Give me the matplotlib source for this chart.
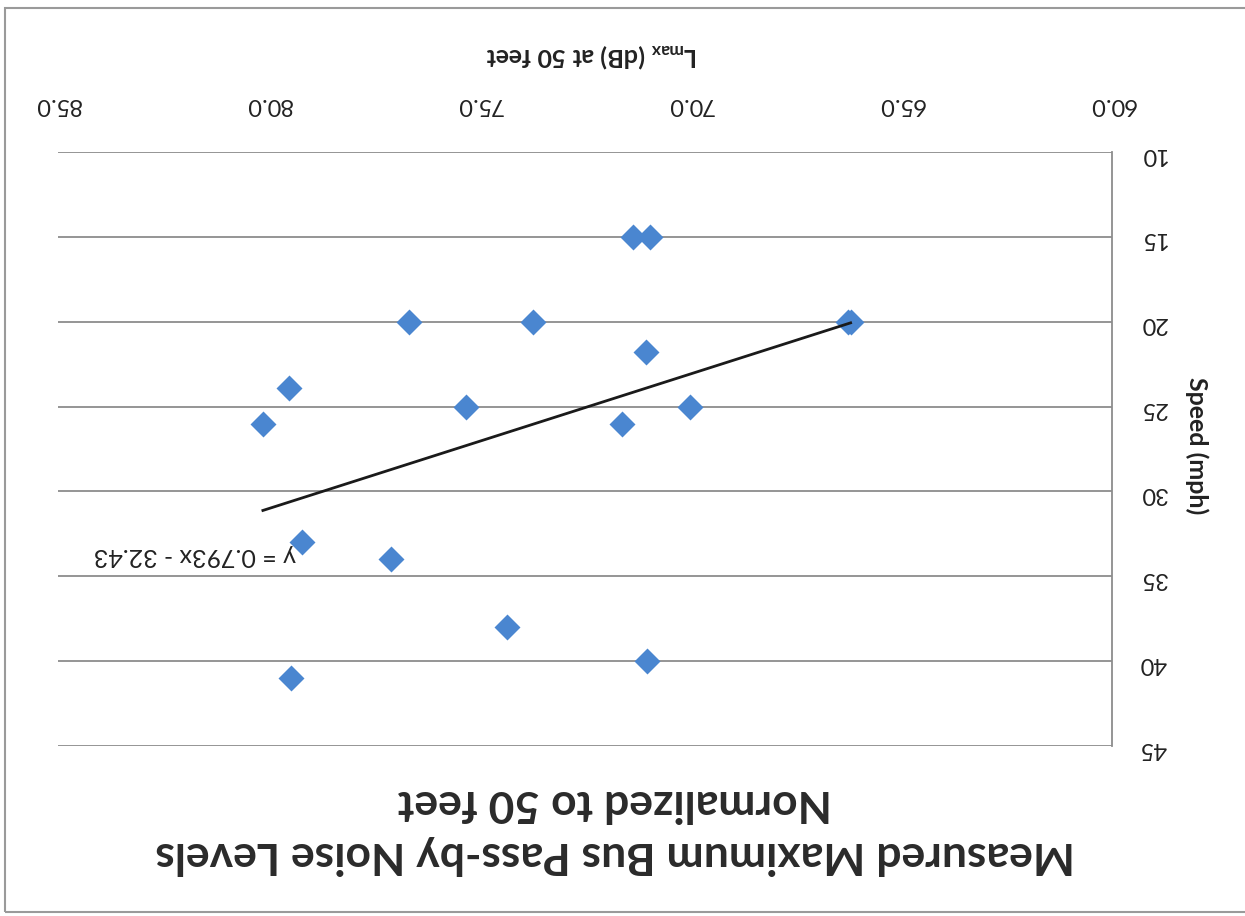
import matplotlib
matplotlib.use("Agg")
import matplotlib.pyplot as plt
from matplotlib.patches import Rectangle

plt.rcParams['font.family'] = ['Lato', 'DejaVu Sans']

# Data: Lmax (dB at 50 ft) vs speed (mph)
lmax = [70.96, 71.36, 66.26, 66.20, 73.73, 76.67, 71.05, 79.52, 70.00, 75.32,
        71.62, 80.14, 79.21, 77.10, 74.35, 71.03, 79.47]
speed = [15, 15, 20, 20, 20, 20, 21.8, 23.9, 25, 25,
         26, 26, 33, 34, 38, 40, 41]

slope = 0.793
intercept = -32.43
eq_label = "y = 0.793x - 32.43"

x_ticks = [60.0, 65.0, 70.0, 75.0, 80.0, 85.0]
y_ticks = [10, 15, 20, 25, 30, 35, 40, 45]

title = "Measured Maximum Bus Pass-by Noise Levels\nNormalized to 50 feet"
x_label = r"L$_{\mathregular{max}}$ (dB) at 50 feet"
y_label = "Speed (mph)"

fig = plt.figure(figsize=(12.45, 9.16), dpi=100)
fig.patch.set_facecolor('white')
fig.add_artist(Rectangle((5/1245, 4/916), 1.2, 1 - 12/916, transform=fig.transFigure,
                         fill=False, edgecolor='#9a9a9a', linewidth=1.5))

ax = fig.add_axes([58/1245, 1 - 746/916, (1112-58)/1245, (746-152)/916])
ax.set_xlim(85, 60)
ax.set_ylim(45, 10)

ax.scatter(lmax, speed, marker='D', s=175, color='#4a86d0', zorder=3, linewidths=0)

xs = [min(lmax), max(lmax)]
ax.plot(xs, [slope * x + intercept for x in xs], color='#1a1a1a', lw=2, zorder=4)
ax.text(81.75, 33.75, eq_label, rotation=180, ha='center', va='center',
        fontsize=18, color='#222222')

ax.set_xticks(x_ticks)
ax.set_xticklabels([f"{v:.1f}" for v in x_ticks], rotation=180, fontsize=17)
ax.set_yticks(y_ticks)
ax.set_yticklabels([str(v) for v in y_ticks], rotation=180, fontsize=17)
ax.xaxis.tick_top()
ax.yaxis.tick_right()
ax.tick_params(axis='x', length=0, pad=27, colors='#222222')
ax.tick_params(axis='y', length=0, pad=20, colors='#222222')

ax.yaxis.grid(True, color='#8c8c8c', lw=1.3)
ax.xaxis.grid(False)
for s in ['left', 'top', 'bottom']:
    ax.spines[s].set_visible(False)
ax.spines['right'].set_color('#8c8c8c')
ax.spines['right'].set_linewidth(1.3)

fig.text(592/1245, 1 - 55/916, x_label, rotation=180, ha='center', va='center',
         fontsize=18, fontweight='bold', color='#222222')
fig.text(1197/1245, 1 - 446/916, y_label, rotation=270, ha='center', va='center',
         fontsize=18, fontweight='bold', color='#222222')
fig.text(615/1245, 1 - 829/916, title, rotation=180, ha='center', va='center',
         fontsize=32, fontweight='bold', color='#2a2a2a', linespacing=1.35,
         multialignment='center')

fig.savefig('out.png', dpi=100)
